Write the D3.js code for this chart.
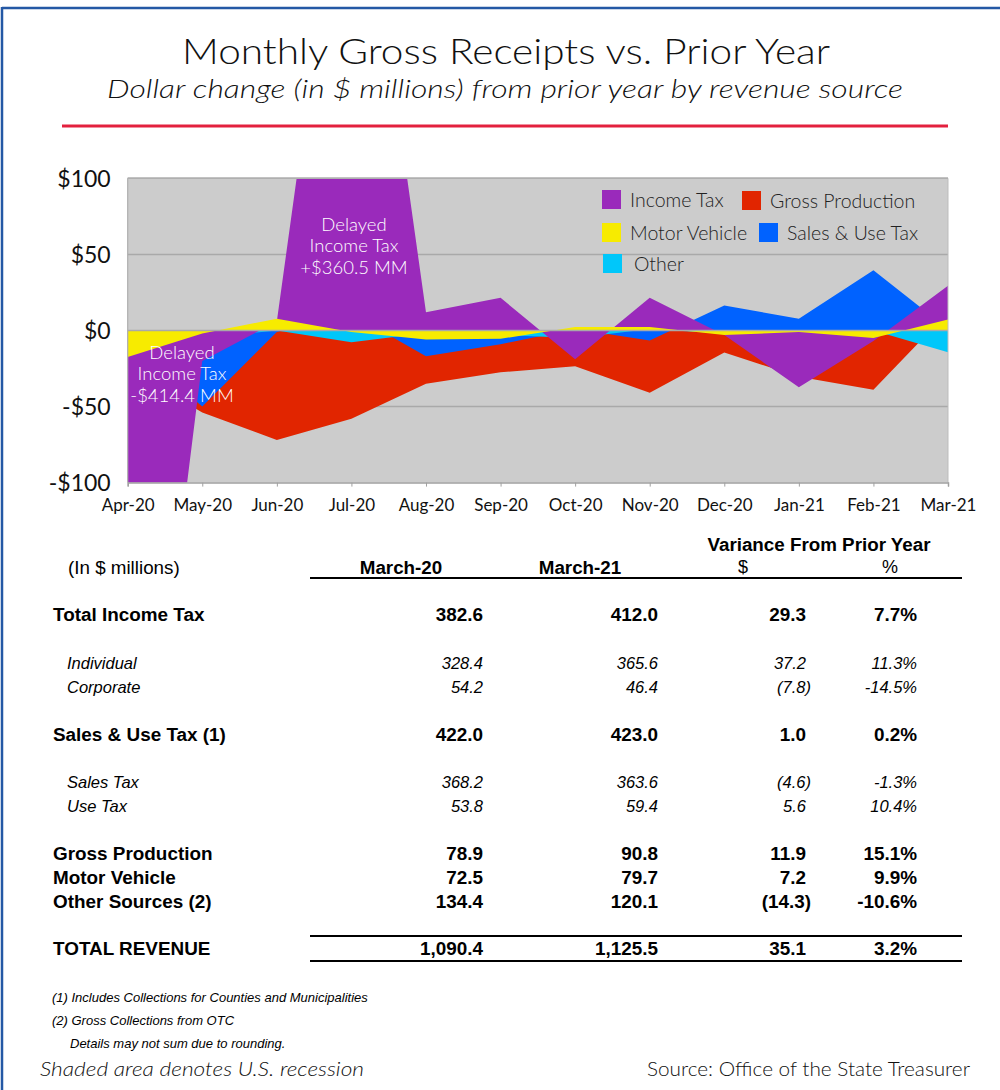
<!DOCTYPE html>
<html><head><meta charset="utf-8">
<script src="https://cdn.jsdelivr.net/npm/d3@7/dist/d3.min.js"></script>
<style>body{margin:0;background:#fff}</style>
</head><body>
<svg id="c" width="1000" height="1090"></svg>
<script>
// ---------- DATA ----------
const months = ["Apr-20","May-20","Jun-20","Jul-20","Aug-20","Sep-20","Oct-20","Nov-20","Dec-20","Jan-21","Feb-21","Mar-21"];
const incomeTax       = [-414.4, -20, 6, 360.5, 12, 21.5, -19, 21.5, -3, -37.3, -7, 29.3];
const grossProduction = [-25, -54, -72, -58, -35, -27.5, -23.5, -41, -14.5, -30.5, -39, 11.9];
const motorVehicle    = [-17.5, -2, 7.7, -1.1, -6, -5.5, 2.2, 2.2, -3, -1.1, -5, 7.2];
const salesUseTax     = [-8, -50, -1, 11, -17, -9, 1, -6.6, 16.4, 7.7, 39.5, 1.0];
const otherSources    = [-5, -5, 0, -7.7, -1.7, -3, -5, 1, -2, -2, 0, -14.3];
const yTicks = [-100, -50, 0, 50, 100];
const yTickLabels = ["-$100", "-$50", "$0", "$50", "$100"];

const rowLabels = ["Total Income Tax","Individual","Corporate","Sales & Use Tax (1)","Sales Tax","Use Tax","Gross Production","Motor Vehicle","Other Sources (2)","TOTAL REVENUE"];
const march20   = ["382.6","328.4","54.2","422.0","368.2","53.8","78.9","72.5","134.4","1,090.4"];
const march21   = ["412.0","365.6","46.4","423.0","363.6","59.4","90.8","79.7","120.1","1,125.5"];
const varDollar = ["29.3","37.2","(7.8)","1.0","(4.6)","5.6","11.9","7.2","(14.3)","35.1"];
const varPct    = ["7.7%","11.3%","-14.5%","0.2%","-1.3%","10.4%","15.1%","9.9%","-10.6%","3.2%"];
const footnotes = ["(1) Includes Collections for Counties and Municipalities","(2) Gross Collections from OTC","Details may not sum due to rounding."];

// ---------- SETUP ----------
const svg = d3.select("#c");
const gothic = "'Lato','DejaVu Sans',sans-serif";
const gw = 300;
const arial = "'Liberation Sans',Arial,sans-serif";

svg.append("rect").attr("width",1000).attr("height",1090).attr("fill","#fff");
// frame
svg.append("line").attr("x1",2).attr("x2",1000).attr("y1",8).attr("y2",8).attr("stroke","#2458A5").attr("stroke-width",2.5);
svg.append("line").attr("x1",2).attr("x2",2).attr("y1",7).attr("y2",1090).attr("stroke","#2458A5").attr("stroke-width",2.5);

// titles
svg.append("text").attr("x",506).attr("y",64).attr("text-anchor","middle")
  .attr("font-family",gothic).attr("font-weight",gw).attr("font-size",35).attr("fill","#111")
  .attr("textLength",648).attr("lengthAdjust","spacingAndGlyphs")
  .text("Monthly Gross Receipts vs. Prior Year");
svg.append("text").attr("x",505).attr("y",98).attr("text-anchor","middle")
  .attr("font-family",gothic).attr("font-weight",gw).attr("font-size",26).attr("font-style","italic").attr("fill","#111")
  .attr("textLength",796).attr("lengthAdjust","spacingAndGlyphs")
  .text("Dollar change (in $ millions) from prior year by revenue source");
svg.append("line").attr("x1",62).attr("x2",948).attr("y1",126).attr("y2",126).attr("stroke","#E3203E").attr("stroke-width",3);

// ---------- CHART ----------
const L = 127.7, R = 948, T = 178.3, B = 482.6;
const x = d3.scalePoint().domain(months).range([L, R]);
const y = d3.scaleLinear().domain([-100, 100]).range([B, T]);

svg.append("defs").append("clipPath").attr("id","plot")
  .append("rect").attr("x",L).attr("y",T).attr("width",R-L).attr("height",B-T);

svg.append("rect").attr("x",L).attr("y",T).attr("width",R-L).attr("height",B-T).attr("fill","#CCCCCC");

// gridlines under areas
svg.append("g").selectAll("line").data(yTicks.filter(v => v !== 0 && v !== -100)).join("line")
  .attr("x1",L).attr("x2",R).attr("y1",d=>y(d)).attr("y2",d=>y(d))
  .attr("stroke","#A9A9A9").attr("stroke-width",1.5);

const series = [
  {name:"Gross Production", values: grossProduction, color:"#E12500"},
  {name:"Sales & Use Tax", values: salesUseTax, color:"#0062FF"},
  {name:"Other", values: otherSources, color:"#00C7FA"},
  {name:"Income Tax", values: incomeTax, color:"#9A2ABB"},
  {name:"Motor Vehicle", values: motorVehicle, color:"#F7EB00"}
];
const area = d3.area().x((d,i)=>x(months[i])).y0(y(0)).y1(d=>y(d));
const ag = svg.append("g").attr("clip-path","url(#plot)");
series.forEach(s => {
  ag.append("path").datum(s.values).attr("d",area).attr("fill",s.color);
});

// zero line on top
svg.append("line").attr("x1",L).attr("x2",R).attr("y1",y(0)).attr("y2",y(0)).attr("stroke","#A9A9A9").attr("stroke-width",1.5);
// side lines
svg.append("line").attr("x1",L).attr("x2",L).attr("y1",T).attr("y2",B).attr("stroke","#AFAFAF").attr("stroke-width",1.2);
svg.append("line").attr("x1",R).attr("x2",R).attr("y1",T).attr("y2",B).attr("stroke","#BDBDBD").attr("stroke-width",1);

// y axis
const yAxis = d3.axisLeft(y).tickValues(yTicks).tickSize(0).tickPadding(17)
  .tickFormat(d=>yTickLabels[yTicks.indexOf(d)]);
const yg = svg.append("g").attr("transform",`translate(${L},0)`).call(yAxis);
yg.select(".domain").remove();
yg.selectAll("text").attr("font-family",gothic).attr("font-weight",400).attr("font-size",23).attr("fill","#111").attr("dy","0.36em");

// top border line
svg.append("line").attr("x1",L).attr("x2",R).attr("y1",T).attr("y2",T).attr("stroke","#AFAFAF").attr("stroke-width",1.5);

// x axis at bottom
const xAxis = d3.axisBottom(x).tickSize(4).tickPadding(12);
const xg = svg.append("g").attr("transform",`translate(0,${B})`).call(xAxis);
xg.select(".domain").attr("stroke","#A0A0A0").attr("stroke-width",1.5);
xg.selectAll(".tick line").attr("stroke","#A0A0A0");
xg.selectAll("text").attr("font-family",gothic).attr("font-weight",400).attr("font-size",17).attr("fill","#111");

// annotations
function annot(cx, lines, ys){
  lines.forEach((t,i)=>{
    svg.append("text").attr("x",cx).attr("y",ys[i]).attr("text-anchor","middle").attr("dy","0.35em")
      .attr("font-family",gothic).attr("font-weight",gw).attr("font-size",18.5).attr("fill","#fff").text(t);
  });
}
annot(354, ["Delayed","Income Tax","+$360.5 MM"], [225,246,268]);
annot(182, ["Delayed","Income Tax","-$414.4 MM"], [353,374,396]);

// legend
const legendItems = [
  {name:"Income Tax", color:"#9A2ABB", sx:602, sy:190, tx:630},
  {name:"Gross Production", color:"#E12500", sx:742, sy:191, tx:770},
  {name:"Motor Vehicle", color:"#F7EB00", sx:602, sy:223, tx:630},
  {name:"Sales & Use Tax", color:"#0062FF", sx:759, sy:223, tx:787},
  {name:"Other", color:"#00C7FA", sx:603, sy:254, tx:634}
];
const lg = svg.append("g");
legendItems.forEach(it=>{
  lg.append("rect").attr("x",it.sx).attr("y",it.sy).attr("width",19).attr("height",19).attr("fill",it.color);
  lg.append("text").attr("x",it.tx).attr("y",it.sy+10).attr("dy","0.35em").attr("font-family",gothic).attr("font-weight",gw)
    .attr("font-size",19.5).attr("fill","#222").text(it.name);
});

// ---------- TABLE ----------
const tg = svg.append("g").attr("font-family",arial).attr("fill","#000");
tg.append("text").attr("x",819).attr("y",544).attr("dy","0.35em").attr("text-anchor","middle")
  .attr("font-weight","bold").attr("font-size",18.8).text("Variance From Prior Year");
tg.append("text").attr("x",68).attr("y",567).attr("dy","0.35em").attr("font-size",18.8).text("(In $ millions)");
tg.append("text").attr("x",401).attr("y",567).attr("dy","0.35em").attr("text-anchor","middle").attr("font-weight","bold").attr("font-size",18.8).text("March-20");
tg.append("text").attr("x",580).attr("y",567).attr("dy","0.35em").attr("text-anchor","middle").attr("font-weight","bold").attr("font-size",18.8).text("March-21");
tg.append("text").attr("x",743).attr("y",567).attr("dy","0.35em").attr("text-anchor","middle").attr("font-size",18).text("$");
tg.append("text").attr("x",890).attr("y",567).attr("dy","0.35em").attr("text-anchor","middle").attr("font-size",18).text("%");
tg.append("line").attr("x1",310).attr("x2",962).attr("y1",578).attr("y2",578).attr("stroke","#000").attr("stroke-width",2);

const rowY = [614,663,687,734,782,806,853,877,901,948];
const italicRows = new Set([1,2,4,5]);
rowLabels.forEach((lab,i)=>{
  const it = italicRows.has(i);
  const fs = it ? 16.5 : 18.9;
  const g = tg.append("g").attr("font-size",fs)
    .attr("font-weight", it ? "normal" : "bold").attr("font-style", it ? "italic" : "normal");
  g.append("text").attr("x", it ? 67 : 53).attr("y",rowY[i]).attr("dy","0.35em").text(lab);
  g.append("text").attr("x",483).attr("y",rowY[i]).attr("dy","0.35em").attr("text-anchor","end").text(march20[i]);
  g.append("text").attr("x",658).attr("y",rowY[i]).attr("dy","0.35em").attr("text-anchor","end").text(march21[i]);
  const vd = varDollar[i];
  g.append("text").attr("x", vd.startsWith("(") ? 811 : 806).attr("y",rowY[i]).attr("dy","0.35em").attr("text-anchor","end").text(vd);
  g.append("text").attr("x",917).attr("y",rowY[i]).attr("dy","0.35em").attr("text-anchor","end").text(varPct[i]);
});
tg.append("line").attr("x1",310).attr("x2",962).attr("y1",936).attr("y2",936).attr("stroke","#000").attr("stroke-width",2);
tg.append("line").attr("x1",310).attr("x2",962).attr("y1",961).attr("y2",961).attr("stroke","#000").attr("stroke-width",2);

// footnotes
const fnX = [52,52,70], fnY = [997,1020,1043];
footnotes.forEach((t,i)=>{
  tg.append("text").attr("x",fnX[i]).attr("y",fnY[i]).attr("dy","0.35em").attr("font-size",13)
    .attr("font-style","italic").text(t);
});
svg.append("text").attr("x",40).attr("y",1069).attr("dy","0.35em").attr("font-family",gothic).attr("font-weight",gw).attr("font-size",19.5)
  .attr("font-style","italic").attr("fill","#111").attr("textLength",324).attr("lengthAdjust","spacingAndGlyphs")
  .text("Shaded area denotes U.S. recession");
svg.append("text").attr("x",970).attr("y",1069).attr("dy","0.35em").attr("text-anchor","end").attr("font-family",gothic).attr("font-weight",gw).attr("font-size",19.5)
  .attr("fill","#111").attr("textLength",323).attr("lengthAdjust","spacingAndGlyphs")
  .text("Source: Office of the State Treasurer");
</script>
</body></html>
